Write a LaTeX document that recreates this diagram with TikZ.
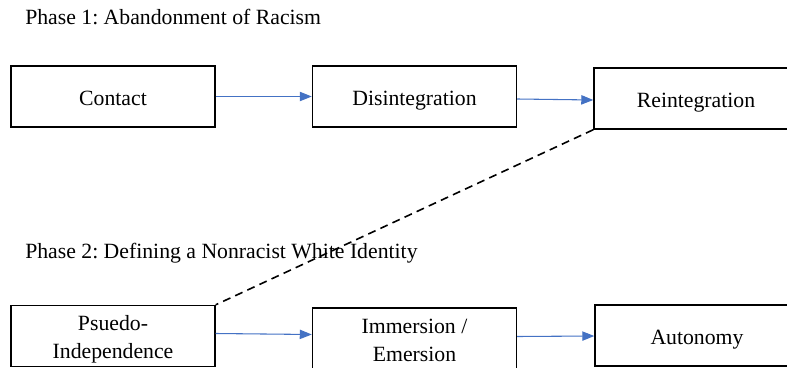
\documentclass[tikz,border=0pt]{standalone}
\usepackage{fontspec}
\setmainfont{Liberation Serif}
\usetikzlibrary{arrows.meta}
\definecolor{arrowblue}{HTML}{4472C4}
\frenchspacing
\begin{document}
\begin{tikzpicture}[x=0.75pt,y=-0.75pt,
  stagebox/.style={draw=black,line width=1.1pt,rectangle,minimum width=204*0.75pt,
    minimum height=61*0.75pt,inner sep=0pt,align=center,
    font=\fontsize{16.3}{21}\selectfont,text height=14pt,text depth=1.2pt},
  twoline/.style={text height=35pt,text depth=1pt},
  phasetitle/.style={anchor=base west,inner sep=0pt,font=\fontsize{16.3}{21}\selectfont},
  flow/.style={draw=arrowblue,line width=0.8pt,-{Triangle[length=9pt,width=7pt]}},
  link/.style={draw=black,line width=1.2pt,dash pattern=on 6pt off 4pt}]
\useasboundingbox (0,0) rectangle (787,367);
\clip (0,0) rectangle (787,367);
\node[phasetitle] (t1) at (25,25) {Phase 1: Abandonment of Racism};
\node[phasetitle] (t2) at (25,258) {Phase 2: Defining a Nonracist White Identity};
\node[stagebox] (contact) at (113,96.5) {Contact};
\node[stagebox] (disint) at (414.5,96.5) {Disintegration};
\node[stagebox] (reint) at (696,98.5) {Reintegration};
\node[stagebox,twoline] (pseudo) at (113,336) {Psuedo-\\Independence};
\node[stagebox,twoline] (immer) at (414.5,338.5) {Immersion /\\Emersion};
\node[stagebox] (auton) at (697,335.5) {Autonomy};
\draw[flow] (contact.east) -- (disint.west);
\draw[flow] ([yshift=-2.5*0.75pt]disint.east) -- ([yshift=-1.5*0.75pt]reint.west);
\draw[flow] ([yshift=2.5*0.75pt]pseudo.east) -- ([yshift=4*0.75pt]immer.west);
\draw[flow] ([yshift=2*0.75pt]immer.east) -- ([yshift=-0.5*0.75pt]auton.west);
\draw[link] (reint.south west) -- (pseudo.north east);
\end{tikzpicture}
\end{document}
